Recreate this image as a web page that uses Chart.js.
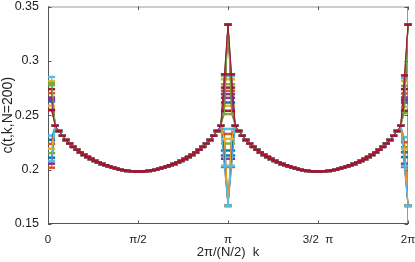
<!DOCTYPE html>
<html><head><meta charset="utf-8">
<script src="https://cdn.jsdelivr.net/npm/chart.js@4/dist/chart.umd.min.js"></script>
<style>html,body{margin:0;padding:0;background:#fff}canvas{display:block}</style>
</head><body>
<canvas id="c" width="415" height="262"></canvas>
<script>
// k = 1..100 (x axis is 2*pi/(N/2) * k)
const kValues = Array.from({length: 100}, (_, i) => i + 1);

// shared smooth part of c(t,k); null where the series differ (k = 1, 49, 50, 51, 99, 100)
const baseCurve = [
  null,
  0.2404,0.2355,0.2312,0.2273,0.2240,0.2210,0.2183,0.2158,0.2136,0.2116,0.2098,0.2081,
  0.2066,0.2052,0.2040,0.2029,0.2019,0.2010,0.2000,0.1994,0.1989,0.1985,0.1983,0.1982,
  0.1983,0.1985,0.1989,0.1994,0.2000,0.2010,0.2019,0.2029,0.2040,0.2052,0.2066,0.2081,
  0.2098,0.2116,0.2136,0.2158,0.2183,0.2210,0.2240,0.2273,0.2312,0.2355,0.2404,
  null, null, null,
  0.2404,0.2355,0.2312,0.2273,0.2240,0.2210,0.2183,0.2158,0.2136,0.2116,0.2098,0.2081,
  0.2066,0.2052,0.2040,0.2029,0.2019,0.2010,0.2000,0.1994,0.1989,0.1985,0.1983,0.1982,
  0.1983,0.1985,0.1989,0.1994,0.2000,0.2010,0.2019,0.2029,0.2040,0.2052,0.2066,0.2081,
  0.2098,0.2116,0.2136,0.2158,0.2183,0.2210,0.2240,0.2273,0.2312,0.2355,0.2404,
  null, null
];

// per-series values at the special momenta
const k1Vals   = [0.2626,0.2703,0.2815,0.2663,0.2776,0.2852,0.2740,0.2110,0.2018,0.2587,0.2055,0.2152,0.2313,0.2548,0.2274,0.2237,0.2192,0.2645,0.2795,0.2080,0.2548];
const k49Vals  = [0.2617,0.2724,0.2830,0.2694,0.2785,0.2860,0.2754,0.2130,0.2024,0.2587,0.2100,0.2240,0.2374,0.2541,0.2176,0.2328,0.2283,0.2660,0.2511,0.2035,0.2876];
const k50Vals  = [0.3333,0.3333,0.3333,0.3333,0.3333,0.3333,0.3333,0.1667,0.1667,0.3333,0.1667,0.1667,0.1667,0.3333,0.1667,0.1667,0.1667,0.3333,0.3333,0.1667,0.3333];
const k51Vals  = [0.2617,0.2724,0.2830,0.2694,0.2785,0.2860,0.2754,0.2130,0.2024,0.2587,0.2100,0.2240,0.2374,0.2541,0.2176,0.2328,0.2283,0.2660,0.2511,0.2035,0.2876];
const k99Vals  = [0.2617,0.2700,0.2815,0.2663,0.2770,0.2840,0.2740,0.2115,0.2024,0.2578,0.2054,0.2206,0.2298,0.2541,0.2160,0.2252,0.2190,0.2640,0.2520,0.2035,0.2866];
const k100Vals = [0.3333,0.3333,0.3333,0.3333,0.3333,0.3333,0.3333,0.1667,0.1667,0.3333,0.1667,0.1667,0.1667,0.3333,0.1667,0.1667,0.1667,0.3333,0.3333,0.1667,0.3333];

const palette = ['#0072BD','#D95319','#EDB120','#7E2F8E','#77AC30','#4DBEEE','#A2142F'];

const xTickPos = [0, 25, 50, 75, 100];
const xTickLabels = ['0', 'π/2', 'π', '3/2  π', '2π'];
const yTickVals = [0.15, 0.2, 0.25, 0.3, 0.35];

const special = {1: k1Vals, 49: k49Vals, 50: k50Vals, 51: k51Vals, 99: k99Vals, 100: k100Vals};

const datasets = k1Vals.map((_, s) => {
  const col = palette[s % palette.length];
  return {
    data: kValues.map((k, j) => ({x: k, y: special[k] ? special[k][s] : baseCurve[j]})),
    borderColor: col,
    backgroundColor: col,
    borderWidth: 1,
    pointStyle: 'line',
    pointRadius: 3.5,
    pointBorderWidth: 2.5,
    pointBorderColor: col,
    pointBackgroundColor: col,
    tension: 0,
    clip: false
  };
}).reverse(); // Chart.js paints dataset 0 last; keep the last series on top

const FONT = "'Liberation Sans', Arial, Helvetica, sans-serif";

const framePlugin = {
  id: 'frame',
  beforeDatasetsDraw(chart) {
    const {ctx, chartArea: a, scales: {x, y}} = chart;
    ctx.save();
    ctx.lineWidth = 1;
    ctx.strokeStyle = '#9a9a9a';
    ctx.beginPath();
    ctx.moveTo(a.left, a.top + 0.5); ctx.lineTo(a.right, a.top + 0.5);
    ctx.moveTo(a.right - 0.5, a.top); ctx.lineTo(a.right - 0.5, a.bottom);
    ctx.stroke();
    ctx.strokeStyle = '#555';
    ctx.beginPath();
    ctx.moveTo(a.left + 0.5, a.top); ctx.lineTo(a.left + 0.5, a.bottom);
    ctx.moveTo(a.left, a.bottom - 0.5); ctx.lineTo(a.right, a.bottom - 0.5);
    ctx.stroke();
    const tl = 3.5;
    ctx.strokeStyle = '#555';
    ctx.beginPath();
    xTickPos.forEach(v => {
      const px = Math.round(x.getPixelForValue(v)) + 0.5;
      ctx.moveTo(px, a.bottom); ctx.lineTo(px, a.bottom - tl);
      ctx.moveTo(px, a.top); ctx.lineTo(px, a.top + tl);
    });
    yTickVals.forEach(v => {
      const py = Math.round(y.getPixelForValue(v)) + 0.5;
      ctx.moveTo(a.left, py); ctx.lineTo(a.left + tl, py);
      ctx.moveTo(a.right, py); ctx.lineTo(a.right - tl, py);
    });
    ctx.stroke();
    ctx.restore();
  }
};

new Chart(document.getElementById('c').getContext('2d'), {
  type: 'line',
  data: {datasets},
  options: {
    responsive: false,
    animation: false,
    devicePixelRatio: 1,
    layout: {padding: {left: 0, right: 7, top: 5, bottom: 0}},
    plugins: {legend: {display: false}, tooltip: {enabled: false}},
    scales: {
      x: {
        type: 'linear', min: 0, max: 100,
        grid: {display: false, drawTicks: false},
        border: {display: false},
        afterBuildTicks: s => { s.ticks = xTickPos.map(v => ({value: v})); },
        ticks: {
          autoSkip: false, maxRotation: 0, padding: 9, color: '#222',
          font: {family: FONT, size: 11.5},
          callback: (v) => xTickLabels[xTickPos.indexOf(v)]
        },
        title: {display: true, text: '2π/(N/2)  k', color: '#222',
                font: {family: FONT, size: 13}, padding: {top: 0, bottom: 2}},
        afterFit: s => { s.height = 38; s.paddingLeft = 0; s.paddingRight = 0; }
      },
      y: {
        type: 'linear', min: 0.15, max: 0.35,
        grid: {display: false, drawTicks: false},
        border: {display: false},
        afterBuildTicks: s => { s.ticks = yTickVals.map(v => ({value: v})); },
        ticks: {
          padding: 9, color: '#222',
          font: {family: FONT, size: 12.5},
          callback: v => String(Number(v.toFixed(2)))
        },
        title: {display: true, text: 'c(t,k,N=200)', color: '#222',
                font: {family: FONT, size: 14}, padding: {top: 0, bottom: 0}},
        afterFit: s => { s.width = 48; s.paddingTop = 0; s.paddingBottom = 0; }
      }
    }
  },
  plugins: [framePlugin]
});
</script>
</body></html>
